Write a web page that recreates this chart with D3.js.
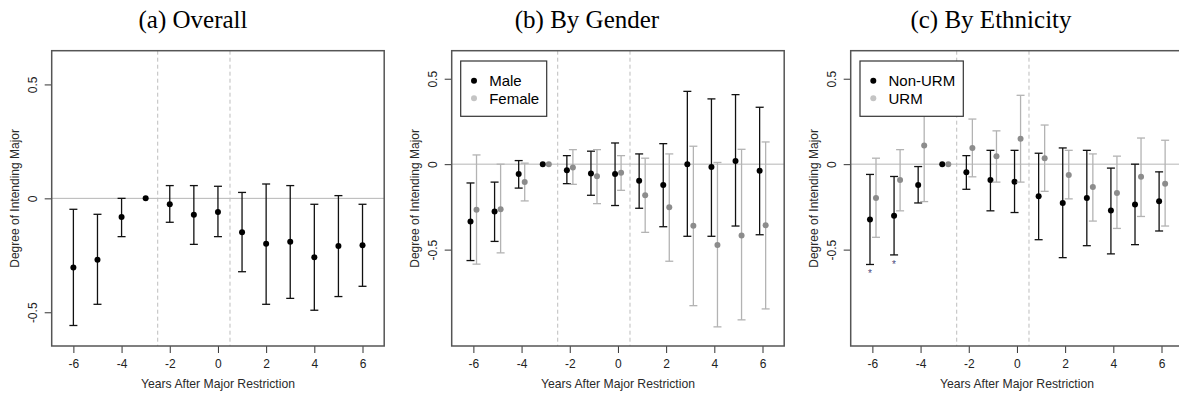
<!DOCTYPE html>
<html>
<head>
<meta charset="utf-8">
<script src="https://cdn.jsdelivr.net/npm/d3@7"></script>
<style>
  html, body { margin: 0; padding: 0; background: #fff; }
  svg { display: block; }
</style>
</head>
<body>
<svg id="fig" width="1179" height="396"></svg>
<script>
// Event-study estimates: effect of the major restriction on degree of intending major.
const years = [-6, -5, -4, -3, -2, -1, 0, 1, 2, 3, 4, 5, 6];

// (a) Overall
const overallEst = [-0.304, -0.269, -0.082, 0, -0.026, -0.072, -0.060, -0.149, -0.199, -0.190, -0.259, -0.209, -0.206];
const overallLo  = [-0.558, -0.465, -0.168, null, -0.105, -0.202, -0.168, -0.322, -0.465, -0.439, -0.491, -0.431, -0.386];
const overallHi  = [-0.048, -0.070, 0.000, null, 0.056, 0.056, 0.053, 0.026, 0.063, 0.056, -0.026, 0.012, -0.026];

// (b) By gender
const maleEst = [-0.335, -0.277, -0.058, 0, -0.035, -0.054, -0.058, -0.097, -0.122, 0.000, -0.017, 0.019, -0.039];
const maleLo  = [-0.564, -0.452, -0.140, null, -0.114, -0.182, -0.242, -0.258, -0.366, -0.422, -0.422, -0.362, -0.413];
const maleHi  = [-0.110, -0.105, 0.021, null, 0.050, 0.076, 0.124, 0.060, 0.120, 0.426, 0.382, 0.407, 0.333];
const femaleEst = [-0.267, -0.264, -0.105, 0, -0.019, -0.070, -0.050, -0.182, -0.252, -0.360, -0.473, -0.417, -0.357];
const femaleLo  = [-0.585, -0.519, -0.215, null, -0.118, -0.231, -0.153, -0.399, -0.568, -0.828, -0.952, -0.911, -0.847];
const femaleHi  = [0.054, 0.000, 0.006, null, 0.085, 0.085, 0.050, 0.035, 0.060, 0.105, 0.010, 0.087, 0.130];

// (c) By ethnicity
const nonUrmEst = [-0.324, -0.302, -0.122, 0, -0.048, -0.093, -0.103, -0.188, -0.227, -0.198, -0.271, -0.236, -0.217];
const nonUrmLo  = [-0.587, -0.531, -0.227, null, -0.147, -0.273, -0.283, -0.442, -0.547, -0.477, -0.525, -0.471, -0.391];
const nonUrmHi  = [-0.060, -0.072, -0.014, null, 0.050, 0.081, 0.081, 0.064, 0.095, 0.081, -0.023, 0.000, -0.045];
const urmEst = [-0.198, -0.093, 0.109, 0, 0.095, 0.047, 0.149, 0.035, -0.064, -0.134, -0.169, -0.074, -0.114];
const urmLo  = [-0.428, -0.273, -0.219, null, -0.074, -0.105, -0.105, -0.159, -0.203, -0.333, -0.376, -0.306, -0.362];
const urmHi  = [0.035, 0.085, 0.437, null, 0.264, 0.195, 0.403, 0.229, 0.081, 0.060, 0.047, 0.153, 0.140];
// significance markers for the non-URM series
const nonUrmStars = ["*", "*", "", "", "", "", "", "", "", "", "", "", ""];

const xTicks = [-6, -4, -2, 0, 2, 4, 6];
const xTickLabels = ["-6", "-4", "-2", "0", "2", "4", "6"];
const yTicks = [-0.5, 0, 0.5];
const yTickLabels = ["-0.5", "0", "0.5"];
const cutoffs = [-2.5, 0.5];

const titles = ["(a) Overall", "(b) By Gender", "(c) By Ethnicity"];
const xTitle = "Years After Major Restriction";
const yTitle = "Degree of Intending Major";

const svg = d3.select("#fig");
const SANS = "'Liberation Sans', Arial, sans-serif";
const SERIF = "'Liberation Serif', 'Times New Roman', serif";

const plotTop = 50.7, plotBottom = 346;

function series(est, lo, hi, offset, style, stars) {
  return years.map((yr, i) => ({ x: yr + offset, est: est[i], lo: lo[i], hi: hi[i],
                                   star: stars ? stars[i] : "", style }));
}

const black = { bar: "#111", pt: "#000" };
const grey = { bar: "#b3b3b3", pt: "#8c8c8c", legend: "#c4c4c4" };

const panels = [
  { left: 51.7, yDomain: [-0.648, 0.648], title: titles[0], titleX: 193, yTitleX: 15,
    series: [series(overallEst, overallLo, overallHi, 0, black)], legend: null },
  { left: 451.7, yDomain: [-1.064, 0.664], title: titles[1], titleX: 587, yTitleX: 415,
    series: [series(maleEst, maleLo, maleHi, -0.12, black), series(femaleEst, femaleLo, femaleHi, 0.13, grey)],
    legend: { x: 460.7, w: 86, labels: ["Male", "Female"] } },
  { left: 850.7, yDomain: [-1.064, 0.664], title: titles[2], titleX: 991, yTitleX: 814,
    series: [series(nonUrmEst, nonUrmLo, nonUrmHi, -0.1, black, nonUrmStars), series(urmEst, urmLo, urmHi, 0.15, grey)],
    legend: { x: 860, w: 103.3, labels: ["Non-URM", "URM"] } }
];

panels.forEach(p => {
  const x = d3.scaleLinear().domain([-6.9, 6.9]).range([p.left, p.left + 332.5]);
  const y = d3.scaleLinear().domain(p.yDomain).range([plotBottom, plotTop]);
  const g = svg.append("g");

  // title
  g.append("text").attr("x", p.titleX).attr("y", 28).attr("text-anchor", "middle")
    .attr("font-family", SERIF).attr("font-size", 25).attr("fill", "#000").text(p.title);

  // reference line at zero and policy cutoffs
  g.append("line").attr("x1", x.range()[0]).attr("x2", x.range()[1])
    .attr("y1", y(0)).attr("y2", y(0)).attr("stroke", "#b5b5b5").attr("stroke-width", 1);
  cutoffs.forEach(c => {
    g.append("line").attr("x1", x(c)).attr("x2", x(c)).attr("y1", plotTop).attr("y2", plotBottom)
      .attr("stroke", "#bdbdbd").attr("stroke-width", 1).attr("stroke-dasharray", "4,3");
  });

  // error bars and points
  p.series.forEach(s => {
    const bars = s.filter(d => d.lo !== null);
    const eb = g.append("g");
    eb.selectAll("line.v").data(bars).join("line")
      .attr("x1", d => x(d.x)).attr("x2", d => x(d.x))
      .attr("y1", d => y(d.lo)).attr("y2", d => y(d.hi))
      .attr("stroke", d => d.style.bar).attr("stroke-width", 1.3);
    ["lo", "hi"].forEach(k => {
      eb.selectAll("line.c" + k).data(bars).join("line")
        .attr("x1", d => x(d.x) - 4).attr("x2", d => x(d.x) + 4)
        .attr("y1", d => y(d[k])).attr("y2", d => y(d[k]))
        .attr("stroke", d => d.style.bar).attr("stroke-width", 1.3);
    });
    g.selectAll(null).data(s).join("circle")
      .attr("cx", d => x(d.x)).attr("cy", d => y(d.est)).attr("r", 3)
      .attr("fill", d => d.style.pt);
    g.selectAll(null).data(s.filter(d => d.star)).join("text")
      .attr("x", d => x(d.x)).attr("y", d => y(d.lo) + 13).attr("text-anchor", "middle")
      .attr("font-family", SANS).attr("font-size", 10).attr("fill", "#4a4a7a").text(d => d.star);
  });

  // legend
  if (p.legend) {
    const L = p.legend;
    g.append("rect").attr("x", L.x).attr("y", 61).attr("width", L.w).attr("height", 55.3)
      .attr("fill", "#fff").attr("stroke", "#333").attr("stroke-width", 1.2);
    const cols = [black.pt, grey.legend];
    L.labels.forEach((lab, i) => {
      const yy = 80.7 + i * 17.6;
      g.append("circle").attr("cx", L.x + 13.3).attr("cy", yy).attr("r", 3).attr("fill", cols[i]);
      g.append("text").attr("x", L.x + 28.5).attr("y", yy + 5.3).attr("font-family", SANS)
        .attr("font-size", 15).attr("fill", "#000").text(lab);
    });
  }

  // axes
  const xAxis = g.append("g").attr("transform", `translate(0,${plotBottom})`)
    .call(d3.axisBottom(x).tickValues(xTicks).tickSize(7).tickPadding(6)
      .tickFormat((d, i) => xTickLabels[i]));
  xAxis.select(".domain").remove();
  xAxis.selectAll("line").attr("stroke", "#333");
  xAxis.selectAll("text").attr("font-family", SANS).attr("font-size", 12).attr("fill", "#222");

  const yAxis = g.append("g").attr("transform", `translate(${p.left},0)`)
    .call(d3.axisLeft(y).tickValues(yTicks).tickSize(7).tickFormat((d, i) => yTickLabels[i]));
  yAxis.select(".domain").remove();
  yAxis.selectAll("line").attr("stroke", "#333");
  yAxis.selectAll("text")
    .attr("x", null).attr("dy", null).attr("text-anchor", "middle")
    .attr("transform", "translate(-19,0) rotate(-90)").attr("y", 4)
    .attr("font-family", SANS).attr("font-size", 12).attr("fill", "#222");

  // plot frame
  g.append("rect").attr("x", x.range()[0]).attr("y", plotTop)
    .attr("width", x.range()[1] - x.range()[0]).attr("height", plotBottom - plotTop)
    .attr("fill", "none").attr("stroke", "#555").attr("stroke-width", 1.5);

  // axis titles
  g.append("text").attr("x", (x.range()[0] + x.range()[1]) / 2).attr("y", 388)
    .attr("text-anchor", "middle").attr("font-family", SANS).attr("font-size", 12.2)
    .attr("fill", "#2a2a2a").text(xTitle);
  g.append("text").attr("transform", `translate(${p.yTitleX + 4},${(plotTop + plotBottom) / 2}) rotate(-90)`)
    .attr("text-anchor", "middle").attr("font-family", SANS).attr("font-size", 12)
    .attr("fill", "#2a2a2a").text(yTitle);
});
</script>
</body>
</html>
